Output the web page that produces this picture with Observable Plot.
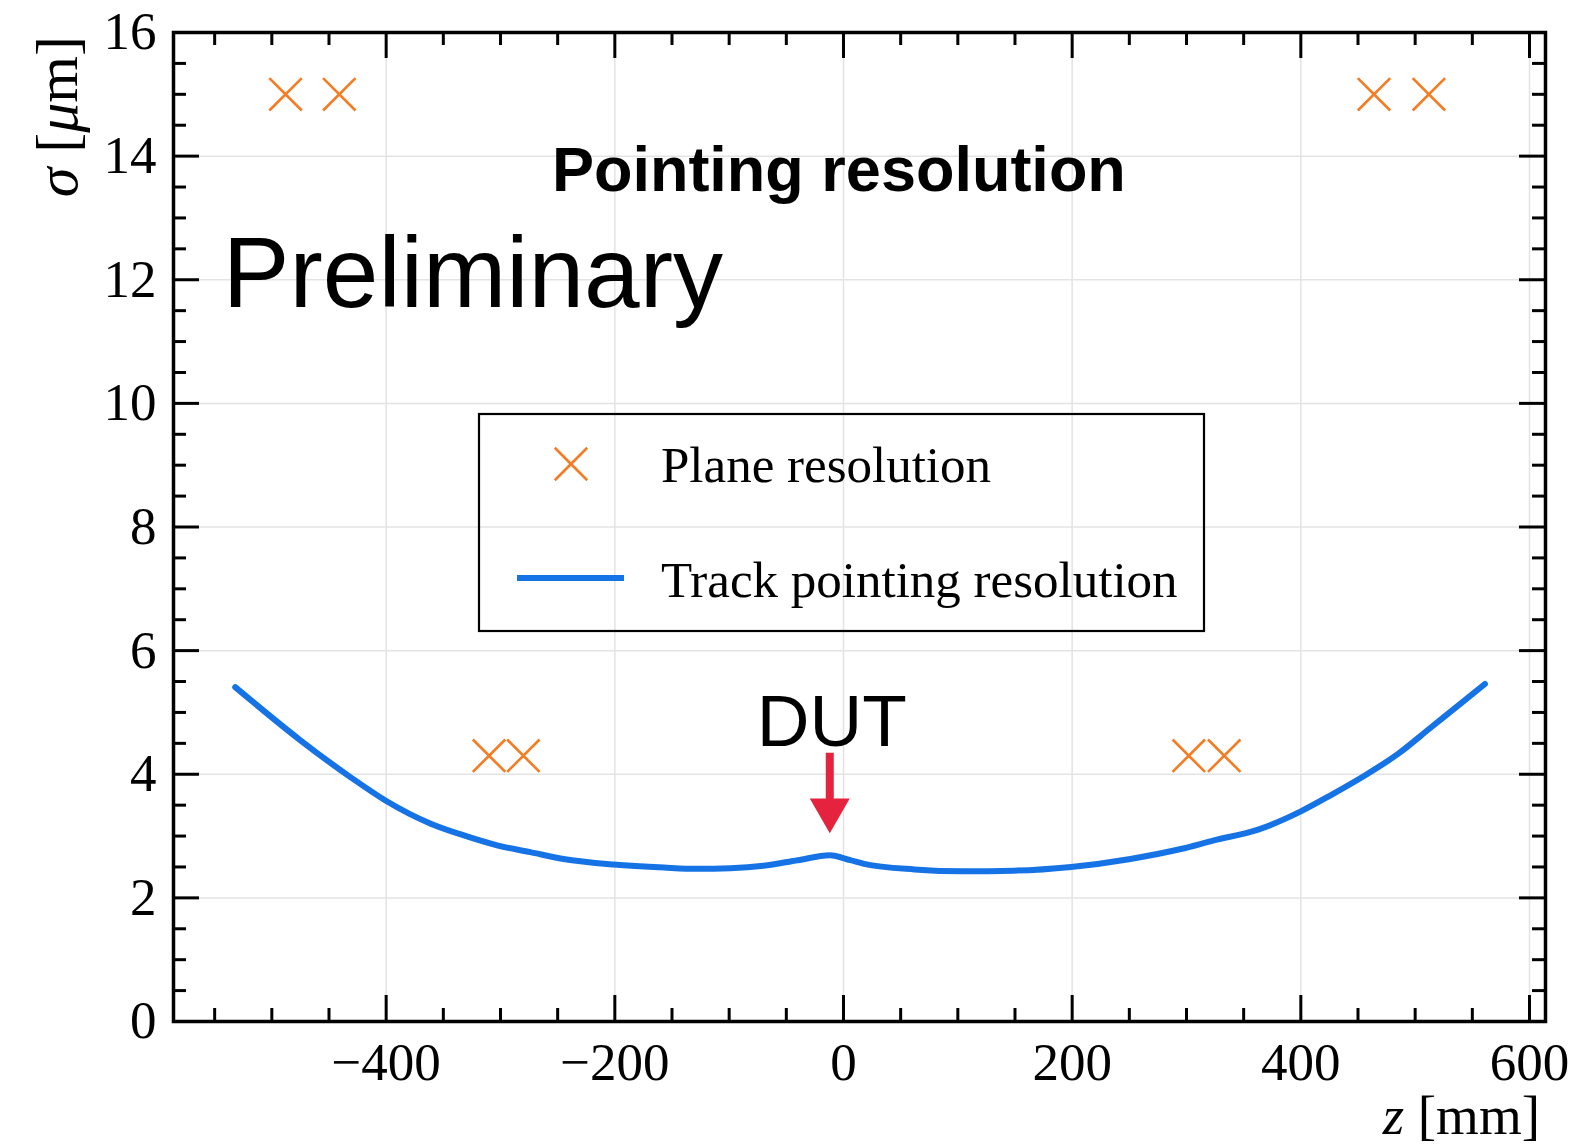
<!DOCTYPE html>
<html><head><meta charset="utf-8">
<script src="https://cdn.jsdelivr.net/npm/d3@7"></script>
<script src="https://cdn.jsdelivr.net/npm/@observablehq/plot@0.6"></script>
<style>body{margin:0;background:#fff}</style>
</head><body><div id="chart"></div>
<script>
// ---- data ----
const planeZ = [-488, -441, -310, -280, 302, 333, 464, 512];
const planeSigma = [15.0, 15.0, 4.3, 4.3, 4.3, 4.3, 15.0, 15.0];

const trackZ = [-532, -475, -431, -401, -361, -332, -303, -274, -245, -201, -157, -128, -99, -70, -40, -12, 6, 18, 62, 105, 149, 199, 251, 295, 324, 362, 400, 426, 456, 485, 514, 543, 561];
const trackSigma = [5.41, 4.55, 3.95, 3.58, 3.20, 3.01, 2.85, 2.74, 2.63, 2.54, 2.49, 2.47, 2.48, 2.52, 2.61, 2.69, 2.61, 2.55, 2.46, 2.43, 2.44, 2.50, 2.63, 2.79, 2.93, 3.10, 3.40, 3.66, 3.98, 4.33, 4.76, 5.19, 5.46];

const xMajor = [-400, -200, 0, 200, 400, 600];
const xMinor = [-550, -500, -450, -350, -300, -250, -150, -100, -50, 50, 100, 150, 250, 300, 350, 450, 500, 550];
const yMajor = [0, 2, 4, 6, 8, 10, 12, 14, 16];
const yMinor = [0.5, 1, 1.5, 2.5, 3, 3.5, 4.5, 5, 5.5, 6.5, 7, 7.5, 8.5, 9, 9.5, 10.5, 11, 11.5, 12.5, 13, 13.5, 14.5, 15, 15.5];

const legendLabels = ["Plane resolution", "Track pointing resolution"];
const dutZ = -12;

// ---- build ----
const planes = planeZ.map((z, i) => ({z, s: planeSigma[i]}));
const track = trackZ.map((z, i) => ({z, s: trackSigma[i]}));

const W = 1577, H = 1145, mL = 173, mR = 32, mT = 32, mB = 124;
const fw = W - mL - mR, fh = H - mT - mB;
const major = 26, minor = 13;
const orange = "#f57c22", blue = "#1673e6", red = "#e6233f";
const fmt = d => d < 0 ? "\u2212" + Math.abs(d) : String(d);

const chart = Plot.plot({
  width: W, height: H,
  marginLeft: mL, marginRight: mR, marginTop: mT, marginBottom: mB,
  x: {domain: [-586, 614], axis: null},
  y: {domain: [0, 16], axis: null},
  style: {background: "white", fontFamily: "'Liberation Serif', 'Times New Roman', serif", color: "black"},
  marks: [
    Plot.ruleX(xMajor, {stroke: "#e3e3e3", strokeWidth: 1.5}),
    Plot.ruleY(yMajor, {stroke: "#e3e3e3", strokeWidth: 1.5}),
    Plot.line(track, {x: "z", y: "s", stroke: blue, strokeWidth: 6, curve: "monotone-x"}),
    Plot.dot(planes, {x: "z", y: "s", symbol: "times", r: 14.8, stroke: orange, strokeWidth: 2.6}),
    Plot.ruleX([dutZ], {y1: 4.34, y2: 3.55, stroke: red, strokeWidth: 8}),
    Plot.dot([dutZ], {x: d => d, y: 3.42, symbol: "triangle", rotate: 180, r: 14.85, fill: red, stroke: "none"}),
    // ticks (inward, all four sides)
    Plot.ruleX(xMajor, {insetTop: fh - major, stroke: "black", strokeWidth: 3}),
    Plot.ruleX(xMajor, {insetBottom: fh - major, stroke: "black", strokeWidth: 3}),
    Plot.ruleX(xMinor, {insetTop: fh - minor, stroke: "black", strokeWidth: 3}),
    Plot.ruleX(xMinor, {insetBottom: fh - minor, stroke: "black", strokeWidth: 3}),
    Plot.ruleY(yMajor, {insetRight: fw - major, stroke: "black", strokeWidth: 3}),
    Plot.ruleY(yMajor, {insetLeft: fw - major, stroke: "black", strokeWidth: 3}),
    Plot.ruleY(yMinor, {insetRight: fw - minor, stroke: "black", strokeWidth: 3}),
    Plot.ruleY(yMinor, {insetLeft: fw - minor, stroke: "black", strokeWidth: 3}),
    Plot.frame({stroke: "black", strokeWidth: 3.5}),
    // tick labels
    Plot.text(xMajor, {x: d => d, frameAnchor: "bottom", lineAnchor: "top", dy: 21, text: fmt, fontSize: 53, fill: "black"}),
    Plot.text(yMajor, {y: d => d, frameAnchor: "left", textAnchor: "end", dx: -17, text: fmt, fontSize: 53, fill: "black"})
  ]
});
document.getElementById("chart").appendChild(chart);

const X = chart.scale("x"), Y = chart.scale("y");
const svg = d3.select(chart);
const sans = "'Liberation Sans', Arial, sans-serif";
const serif = "'Liberation Serif', 'Times New Roman', serif";

// annotations
svg.append("text").attr("x", X.apply(-254.6)).attr("y", Y.apply(13.43)).attr("text-anchor", "start")
  .attr("font-family", sans).attr("font-weight", "bold").attr("font-size", 63).attr("fill", "black")
  .text("Pointing resolution");
svg.append("text").attr("x", X.apply(-542.4)).attr("y", Y.apply(11.55)).attr("text-anchor", "start")
  .attr("font-family", sans).attr("font-size", 100).attr("fill", "black")
  .text("Preliminary");
svg.append("text").attr("x", X.apply(-75.4)).attr("y", Y.apply(4.45)).attr("text-anchor", "start")
  .attr("font-family", sans).attr("font-size", 73).attr("fill", "black")
  .text("DUT");

// axis labels
const yl = svg.append("text").attr("transform", "translate(77,36) rotate(-90)")
  .attr("text-anchor", "end").attr("font-family", serif).attr("font-size", 60).attr("fill", "black");
yl.append("tspan").attr("font-style", "italic").text("\u03C3");
yl.append("tspan").text(" [");
yl.append("tspan").attr("font-style", "italic").text("\u03BC");
yl.append("tspan").text("m]");

const xl = svg.append("text").attr("x", 1540).attr("y", 1134)
  .attr("text-anchor", "end").attr("font-family", serif).attr("font-size", 55).attr("fill", "black");
xl.append("tspan").attr("font-style", "italic").text("z");
xl.append("tspan").text(" [mm]");

// legend
const lg = svg.append("g");
lg.append("rect").attr("x", 479).attr("y", 414).attr("width", 725).attr("height", 217)
  .attr("fill", "none").attr("stroke", "black").attr("stroke-width", 2.2);
lg.append("path").attr("transform", "translate(571,464)")
  .attr("d", d3.symbol(d3.symbolTimes, 14.8 * 14.8 * Math.PI)())
  .attr("fill", "none").attr("stroke", orange).attr("stroke-width", 2.6);
lg.append("line").attr("x1", 517).attr("x2", 624).attr("y1", 578).attr("y2", 578)
  .attr("stroke", blue).attr("stroke-width", 6);
lg.append("text").attr("x", 661).attr("y", 482).attr("text-anchor", "start").attr("font-family", serif).attr("font-size", 51).attr("fill", "black").text(legendLabels[0]);
lg.append("text").attr("x", 661).attr("y", 597).attr("text-anchor", "start").attr("font-family", serif).attr("font-size", 51).attr("fill", "black").text(legendLabels[1]);
</script>
</body></html>
